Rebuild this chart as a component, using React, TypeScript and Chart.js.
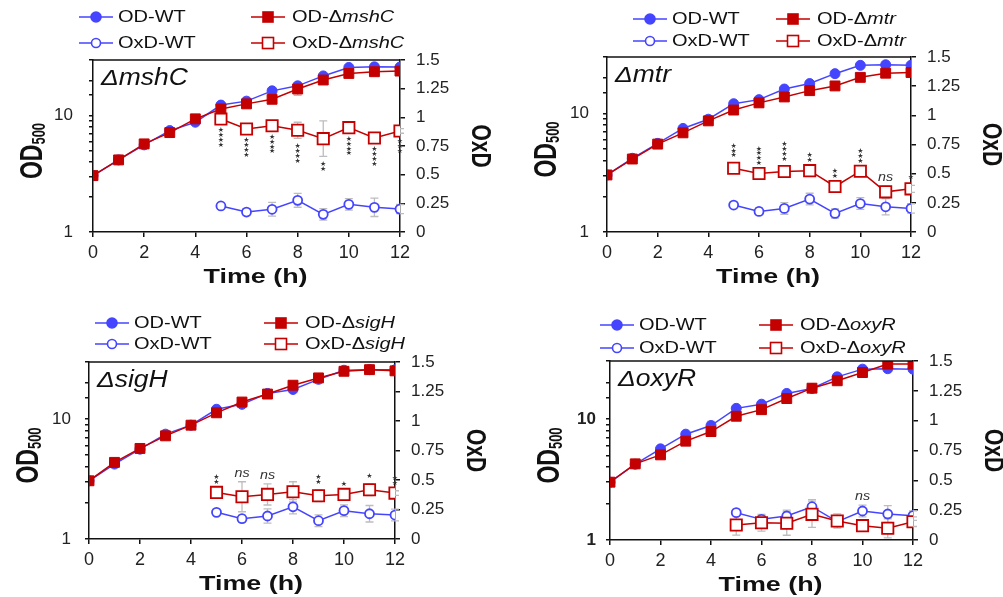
import React, { useEffect, useRef } from 'react';
import { Chart, registerables } from 'chart.js';
Chart.register(...registerables);

const FONT = '"Liberation Sans", Arial, Helvetica, sans-serif';
const BLUE = '#4545ff';
const RED = '#c40000';
const ERR = '#bdbdbd';
const INK = '#111111';

// ---------- data ----------
const time = [0, 1, 2, 3, 4, 5, 6, 7, 8, 9, 10, 11, 12];
const oxdTime = [5, 6, 7, 8, 9, 10, 11, 12];
const xTickStep = 2;
const odRange = [1, 30];
const oxdRange = [0, 1.5];
const oxdStep = 0.25;

// ΔmshC
const odWT_mshC = [3.05, 4.16, 5.6, 7.43, 8.77, 12.3, 13.3, 16.3, 18.0, 21.9, 25.9, 26.2, 26.1];
const odMut_mshC = [3.05, 4.16, 5.71, 7.14, 9.37, 11.4, 12.6, 13.8, 16.9, 20.2, 23.0, 23.8, 24.1];
const odWTErr_mshC = [0, 0, 0, 0, 0.4, 0, 0, 0, 0, 0, 0, 0, 0];
const odMutErr_mshC = [0, 0, 0, 0, 0, 0.5, 0, 0, 2.0, 0, 1.3, 0.8, 0];
const oxdWT_mshC = [0.227, 0.174, 0.198, 0.276, 0.154, 0.241, 0.215, 0.2];
const oxdWTErr_mshC = [0.01, 0.03, 0.06, 0.06, 0.05, 0.05, 0.08, 0.04];
const oxdMut_mshC = [0.985, 0.898, 0.927, 0.887, 0.814, 0.91, 0.82, 0.881];
const oxdMutErr_mshC = [0.03, 0.03, 0.03, 0.07, 0.155, 0.03, 0.03, 0.02];
const sig_mshC = ['****', '****', '****', '****', '**', '****', '****', '***'];

// Δmtr
const odWT_mtr = [3.03, 4.19, 5.6, 7.48, 8.95, 12.1, 13.1, 16.1, 17.9, 21.7, 25.5, 25.8, 25.5];
const odMut_mtr = [3.03, 4.13, 5.52, 6.87, 8.67, 10.7, 12.3, 13.8, 15.6, 17.1, 20.2, 21.9, 22.2];
const odWTErr_mtr = [0, 0, 0, 0, 0.6, 0, 0, 0, 0, 0, 0, 0, 0];
const odMutErr_mtr = [0, 0, 0, 0, 0, 0, 0, 0, 0, 0, 0, 0, 0];
const oxdWT_mtr = [0.231, 0.176, 0.202, 0.282, 0.159, 0.244, 0.216, 0.202];
const oxdWTErr_mtr = [0.01, 0.03, 0.05, 0.05, 0.04, 0.05, 0.07, 0.04];
const oxdMut_mtr = [0.547, 0.501, 0.518, 0.526, 0.39, 0.521, 0.344, 0.37];
const oxdMutErr_mtr = [0.04, 0.02, 0.04, 0.02, 0.02, 0.02, 0.05, 0.03];
const sig_mtr = ['***', '****', '****', '**', '**', '***', 'ns', '*'];

// ΔsigH
const odWT_sigH = [3.06, 4.22, 5.62, 7.5, 8.91, 12.1, 13.3, 16.4, 17.7, 21.5, 25.6, 25.9, 25.8];
const odMut_sigH = [3.06, 4.36, 5.7, 7.26, 8.91, 11.3, 13.9, 16.2, 19.2, 22.1, 25.1, 25.9, 25.3];
const odWTErr_sigH = [0, 0, 0, 0, 0, 0, 0, 0, 0, 0, 0, 0, 0];
const odMutErr_sigH = [0, 0, 0, 0, 0, 0, 0, 0, 0, 0, 0, 0, 0];
const oxdWT_sigH = [0.226, 0.172, 0.195, 0.273, 0.155, 0.24, 0.214, 0.203];
const oxdWTErr_sigH = [0.01, 0.03, 0.06, 0.06, 0.05, 0.05, 0.07, 0.05];
const oxdMut_sigH = [0.395, 0.358, 0.378, 0.4, 0.366, 0.378, 0.417, 0.389];
const oxdMutErr_sigH = [0.02, 0.127, 0.09, 0.085, 0.05, 0.02, 0.05, 0.02];
const sig_sigH = ['**', 'ns', 'ns', '', '**', '*', '*', '**'];

// ΔoxyR
const odWT_oxyR = [3.0, 4.22, 5.65, 7.47, 8.8, 12.2, 13.2, 16.2, 17.8, 22.2, 25.7, 25.9, 25.7];
const odMut_oxyR = [3.0, 4.25, 5.04, 6.54, 7.85, 10.5, 11.9, 14.7, 17.9, 20.6, 24.1, 28.3, 28.3];
const odWTErr_oxyR = [0, 0, 0, 0, 0.7, 0, 0, 0, 0, 0, 0, 0, 0];
const odMutErr_oxyR = [0, 0, 0, 0, 0, 0, 0, 0, 0, 0, 0, 0, 0];
const oxdWT_oxyR = [0.229, 0.173, 0.201, 0.279, 0.153, 0.243, 0.218, 0.204];
const oxdWTErr_oxyR = [0.01, 0.03, 0.05, 0.06, 0.04, 0.05, 0.07, 0.04];
const oxdMut_oxyR = [0.126, 0.145, 0.14, 0.215, 0.159, 0.12, 0.098, 0.153];
const oxdMutErr_oxyR = [0.085, 0.07, 0.1, 0.11, 0.06, 0.04, 0.08, 0.04];
const sig_oxyR = ['', '', '', '', '', 'ns', '', ''];

// ---------- layout ----------
type Layout = {
  left: number; top: number; w: number; h: number;
  pad: { left: number; top: number; right: number; bottom: number };
  leg: { c1: number; c2: number; r1: number; r2: number };
  yPad: number; boldY: boolean;
};

const PANELS = [
  {
    gene: 'mshC', odWT: odWT_mshC, odMut: odMut_mshC, odWTErr: odWTErr_mshC, odMutErr: odMutErr_mshC,
    oxdWT: oxdWT_mshC, oxdWTErr: oxdWTErr_mshC, oxdMut: oxdMut_mshC, oxdMutErr: oxdMutErr_mshC,
    sig: sig_mshC, sigOn: 'mut', sigDir: 'below',
    layout: { left: 0, top: 0, w: 500, h: 298, pad: { left: 93, top: 60, right: 100, bottom: 66 }, leg: { c1: 79, c2: 251, r1: 17, r2: 43 }, yPad: 16, boldY: false } as Layout,
  },
  {
    gene: 'mtr', odWT: odWT_mtr, odMut: odMut_mtr, odWTErr: odWTErr_mtr, odMutErr: odMutErr_mtr,
    oxdWT: oxdWT_mtr, oxdWTErr: oxdWTErr_mtr, oxdMut: oxdMut_mtr, oxdMutErr: oxdMutErr_mtr,
    sig: sig_mtr, sigOn: 'mut', sigDir: 'above',
    layout: { left: 500, top: 0, w: 503, h: 298, pad: { left: 107, top: 57, right: 92, bottom: 66 }, leg: { c1: 133, c2: 276, r1: 19, r2: 41 }, yPad: 14, boldY: false } as Layout,
  },
  {
    gene: 'sigH', odWT: odWT_sigH, odMut: odMut_sigH, odWTErr: odWTErr_sigH, odMutErr: odMutErr_sigH,
    oxdWT: oxdWT_sigH, oxdWTErr: oxdWTErr_sigH, oxdMut: oxdMut_sigH, oxdMutErr: oxdMutErr_sigH,
    sig: sig_sigH, sigOn: 'mut', sigDir: 'above',
    layout: { left: 0, top: 299, w: 500, h: 298, pad: { left: 89, top: 63, right: 105, bottom: 58 }, leg: { c1: 95, c2: 264, r1: 24, r2: 45 }, yPad: 14, boldY: false } as Layout,
  },
  {
    gene: 'oxyR', odWT: odWT_oxyR, odMut: odMut_oxyR, odWTErr: odWTErr_oxyR, odMutErr: odMutErr_oxyR,
    oxdWT: oxdWT_oxyR, oxdWTErr: oxdWTErr_oxyR, oxdMut: oxdMut_oxyR, oxdMutErr: oxdMutErr_oxyR,
    sig: sig_oxyR, sigOn: 'wt', sigDir: 'above',
    layout: { left: 500, top: 299, w: 503, h: 298, pad: { left: 110, top: 62, right: 90, bottom: 57 }, leg: { c1: 100, c2: 259, r1: 26, r2: 49 }, yPad: 10, boldY: true } as Layout,
  },
];

const EDGE = 4;

type Part = { t: string; f: string; dy?: number };

function drawParts(ctx: CanvasRenderingContext2D, parts: Part[], x: number, y: number, sx: number, align: 'left' | 'center', baseline: CanvasTextBaseline) {
  let total = 0;
  const widths = parts.map((p) => { ctx.font = p.f; const w = ctx.measureText(p.t).width; total += w; return w; });
  const start = align === 'center' ? x - (total * sx) / 2 : x;
  ctx.save();
  ctx.translate(start, y);
  ctx.scale(sx, 1);
  ctx.textAlign = 'left';
  ctx.textBaseline = baseline;
  let cx = 0;
  parts.forEach((p, i) => { ctx.font = p.f; ctx.fillText(p.t, cx, p.dy || 0); cx += widths[i]; });
  ctx.restore();
}

function drawMarker(ctx: CanvasRenderingContext2D, kind: string, x: number, y: number, color: string) {
  ctx.save();
  ctx.lineWidth = 1.6;
  ctx.strokeStyle = color;
  ctx.fillStyle = color;
  if (kind === 'circle' || kind === 'ocircle') {
    ctx.beginPath();
    ctx.arc(x, y, kind === 'circle' ? 5 : 4.5, 0, Math.PI * 2);
    if (kind === 'ocircle') { ctx.fillStyle = '#fff'; }
    ctx.fill();
    ctx.stroke();
  } else {
    const s = kind === 'square' ? 10 : 11;
    if (kind === 'osquare') { ctx.fillStyle = '#fff'; }
    ctx.fillRect(x - s / 2, y - s / 2, s, s);
    ctx.strokeRect(x - s / 2, y - s / 2, s, s);
  }
  ctx.restore();
}

function makePlugin(p: any) {
  return {
    id: 'panelDecor',
    beforeDatasetsDraw(chart: any) {
      const ctx = chart.ctx as CanvasRenderingContext2D;
      const xs = chart.scales.x, y = chart.scales.y, y2 = chart.scales.y2;
      ctx.save();
      ctx.strokeStyle = ERR;
      ctx.lineWidth = 1.3;
      const bar = (px: number, top: number, bot: number) => {
        ctx.beginPath();
        ctx.moveTo(px, top); ctx.lineTo(px, bot);
        ctx.moveTo(px - 4, top); ctx.lineTo(px + 4, top);
        ctx.moveTo(px - 4, bot); ctx.lineTo(px + 4, bot);
        ctx.stroke();
      };
      time.forEach((t, i) => {
        [[p.odWT, p.odWTErr], [p.odMut, p.odMutErr]].forEach(([v, e]: any) => {
          if (e[i] > 0) bar(xs.getPixelForValue(t), y.getPixelForValue(v[i] + e[i]), y.getPixelForValue(v[i] - e[i]));
        });
      });
      oxdTime.forEach((t, i) => {
        [[p.oxdWT, p.oxdWTErr], [p.oxdMut, p.oxdMutErr]].forEach(([v, e]: any) => {
          if (e[i] > 0) bar(xs.getPixelForValue(t), y2.getPixelForValue(v[i] + e[i]), y2.getPixelForValue(v[i] - e[i]));
        });
      });
      ctx.restore();
    },
    afterDraw(chart: any) {
      const ctx = chart.ctx as CanvasRenderingContext2D;
      const a = chart.chartArea;
      const xs = chart.scales.x, y2 = chart.scales.y2;
      const L: Layout = p.layout;
      ctx.save();
      // top frame line
      ctx.strokeStyle = INK;
      ctx.lineWidth = 1.5;
      ctx.beginPath(); ctx.moveTo(a.left, a.top); ctx.lineTo(a.right, a.top); ctx.stroke();

      // significance marks
      const vals = p.sigOn === 'mut' ? p.oxdMut : p.oxdWT;
      const errs = p.sigOn === 'mut' ? p.oxdMutErr : p.oxdWTErr;
      ctx.fillStyle = '#333';
      oxdTime.forEach((t, i) => {
        const s: string = p.sig[i];
        if (!s) return;
        const px = xs.getPixelForValue(t);
        if (s === 'ns') {
          const yy = p.sigDir === 'above' ? y2.getPixelForValue(vals[i] + errs[i]) - 5 : y2.getPixelForValue(vals[i] - errs[i]) + 15;
          drawParts(ctx, [{ t: 'ns', f: `italic 13px ${FONT}` }], px, yy, 1.1, 'center', 'alphabetic');
          return;
        }
        const n = s.length;
        for (let k = 0; k < n; k++) {
          const yy = p.sigDir === 'above'
            ? y2.getPixelForValue(vals[i] + errs[i]) - 8 - k * 4.8
            : y2.getPixelForValue(vals[i] - errs[i]) + 8 + k * 4.8;
          ctx.font = `7px "DejaVu Sans"`;
          ctx.textAlign = 'center';
          ctx.textBaseline = 'middle';
          ctx.fillText('★', px, yy);
        }
      });

      ctx.fillStyle = INK;
      // panel label
      drawParts(ctx, [{ t: 'Δ' + p.gene, f: `italic 23px ${FONT}` }], a.left + 8, a.top + 25, 1.15, 'left', 'alphabetic');
      // x title
      drawParts(ctx, [{ t: 'Time (h)', f: `bold 21px ${FONT}` }], (a.left + a.right) / 2 + 9, a.bottom + 45, 1.28, 'center', 'middle');
      // left title OD500
      ctx.save();
      ctx.translate(a.left - 62, (a.top + a.bottom) / 2 + 5);
      ctx.rotate(-Math.PI / 2);
      ctx.scale(1, 1.35);
      drawParts(ctx, [{ t: 'OD', f: `bold 23px ${FONT}` }, { t: '500', f: `bold 13px ${FONT}`, dy: 2 }], 0, 8, 1, 'center', 'alphabetic');
      ctx.restore();
      // right title OxD
      ctx.save();
      ctx.translate(a.right + 80, (a.top + a.bottom) / 2);
      ctx.rotate(Math.PI / 2);
      ctx.scale(1, 1.35);
      drawParts(ctx, [{ t: 'OxD', f: `bold 21px ${FONT}` }], 0, 0, 1, 'center', 'middle');
      ctx.restore();

      // legend
      const lf = `16px ${FONT}`;
      const lfi = `italic 16px ${FONT}`;
      const items = [
        { x: L.leg.c1, y: L.leg.r1, color: BLUE, kind: 'circle', parts: [{ t: 'OD-WT', f: lf }], gap: 5 },
        { x: L.leg.c1, y: L.leg.r2, color: BLUE, kind: 'ocircle', parts: [{ t: 'OxD-WT', f: lf }], gap: 5 },
        { x: L.leg.c2, y: L.leg.r1, color: RED, kind: 'square', parts: [{ t: 'OD-Δ', f: lf }, { t: p.gene, f: lfi }], gap: 7 },
        { x: L.leg.c2, y: L.leg.r2, color: RED, kind: 'osquare', parts: [{ t: 'OxD-Δ', f: lf }, { t: p.gene, f: lfi }], gap: 7 },
      ];
      items.forEach((it) => {
        ctx.strokeStyle = it.color;
        ctx.lineWidth = 1.5;
        ctx.beginPath(); ctx.moveTo(it.x, it.y); ctx.lineTo(it.x + 34, it.y); ctx.stroke();
        drawMarker(ctx, it.kind, it.x + 17, it.y, it.color);
        ctx.fillStyle = INK;
        drawParts(ctx, it.parts, it.x + 34 + it.gap, it.y + 1, 1.25, 'left', 'middle');
      });
      ctx.restore();
    },
  };
}

function PanelChart({ p }: { p: any }) {
  const ref = useRef<HTMLCanvasElement | null>(null);
  useEffect(() => {
    const L: Layout = p.layout;
    const gridCommon = { display: true, drawOnChartArea: false, drawTicks: true, color: INK, lineWidth: 1.5 };
    const chart = new Chart(ref.current as HTMLCanvasElement, {
      type: 'line',
      data: {
        datasets: [
          {
            label: 'OD-Δ' + p.gene, yAxisID: 'y',
            data: time.map((t, i) => ({ x: t, y: p.odMut[i] })),
            borderColor: RED, backgroundColor: RED, borderWidth: 1.5,
            pointStyle: 'rect', pointRadius: 7, pointBackgroundColor: RED, pointBorderColor: RED, pointBorderWidth: 1,
          },
          {
            label: 'OD-WT', yAxisID: 'y',
            data: time.map((t, i) => ({ x: t, y: p.odWT[i] })),
            borderColor: BLUE, backgroundColor: BLUE, borderWidth: 1.5,
            pointStyle: 'circle', pointRadius: 5, pointBackgroundColor: BLUE, pointBorderColor: BLUE, pointBorderWidth: 1,
          },
          {
            label: 'OxD-Δ' + p.gene, yAxisID: 'y2',
            data: oxdTime.map((t, i) => ({ x: t, y: p.oxdMut[i] })),
            borderColor: RED, backgroundColor: '#fff', borderWidth: 1.5,
            pointStyle: 'rect', pointRadius: 8, pointBackgroundColor: '#fff', pointBorderColor: RED, pointBorderWidth: 1.8,
          },
          {
            label: 'OxD-WT', yAxisID: 'y2',
            data: oxdTime.map((t, i) => ({ x: t, y: p.oxdWT[i] })),
            borderColor: BLUE, backgroundColor: '#fff', borderWidth: 1.5,
            pointStyle: 'circle', pointRadius: 4.5, pointBackgroundColor: '#fff', pointBorderColor: BLUE, pointBorderWidth: 1.8,
          },
        ],
      },
      options: {
        responsive: false,
        animation: false,
        events: [],
        layout: { padding: { left: EDGE, top: L.pad.top, right: EDGE, bottom: EDGE } },
        plugins: { legend: { display: false }, tooltip: { enabled: false } },
        scales: {
          x: {
            type: 'linear', min: time[0], max: time[time.length - 1],
            ticks: { stepSize: xTickStep, color: '#222', font: { family: FONT, size: 18 }, padding: 5 },
            grid: { ...gridCommon, tickLength: 5 },
            border: { display: true, color: INK, width: 1.5 },
            afterFit: (s: any) => { s.height = L.pad.bottom - EDGE; },
          },
          y: {
            type: 'logarithmic', position: 'left', min: odRange[0], max: odRange[1],
            ticks: {
              autoSkip: false, color: '#222', padding: L.yPad,
              font: { family: FONT, size: 17, weight: L.boldY ? 'bold' : 'normal' },
              callback: (v: any) => (Math.abs(v - 1) < 1e-6 || Math.abs(v - 10) < 1e-6 ? String(Math.round(v)) : ''),
            },
            grid: { ...gridCommon, tickLength: 4 },
            border: { display: true, color: INK, width: 1.5 },
            afterFit: (s: any) => { s.width = L.pad.left - EDGE; },
          },
          y2: {
            type: 'linear', position: 'right', min: oxdRange[0], max: oxdRange[1],
            ticks: { stepSize: oxdStep, color: '#222', padding: 11, font: { family: FONT, size: 17 }, callback: (v: any) => String(v) },
            grid: { ...gridCommon, tickLength: 5 },
            border: { display: true, color: INK, width: 1.5 },
            afterFit: (s: any) => { s.width = L.pad.right - EDGE; },
          },
        },
      } as any,
      plugins: [makePlugin(p)],
    });
    return () => chart.destroy();
  }, [p]);
  const L: Layout = p.layout;
  return (
    <canvas
      ref={ref}
      width={L.w}
      height={L.h}
      style={{ position: 'absolute', left: L.left, top: L.top, width: L.w, height: L.h }}
    />
  );
}

export default function App() {
  return (
    <div style={{ position: 'absolute', left: 0, top: 0, width: 1003, height: 597, background: '#fff', overflow: 'hidden' }}>
      {PANELS.map((p) => (
        <PanelChart key={p.gene} p={p} />
      ))}
    </div>
  );
}
